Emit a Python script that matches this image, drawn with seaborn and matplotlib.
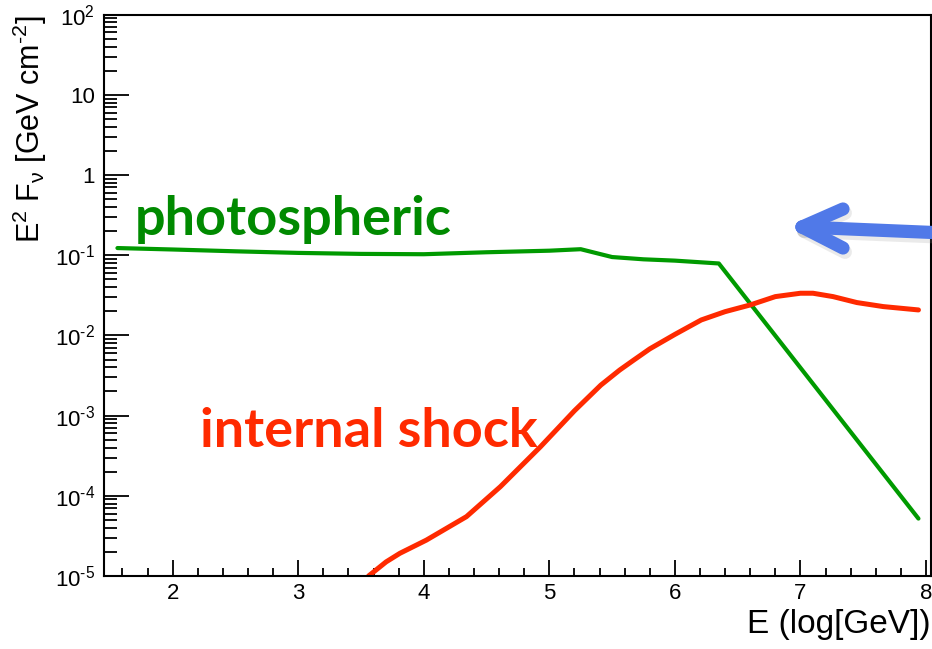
import numpy as np
import pandas as pd
import matplotlib
matplotlib.use("Agg")
import matplotlib.pyplot as plt
from matplotlib.ticker import FixedLocator, LogLocator, NullFormatter, MultipleLocator
from matplotlib.lines import Line2D
import seaborn as sns

# ---- data ----
green_x = [1.56, 2.0, 2.5, 3.0, 3.5, 4.0, 4.5, 5.0, 5.25, 5.5, 5.75, 6.0, 6.35, 7.94]
green_y = [0.123, 0.118, 0.112, 0.107, 0.104, 0.103, 0.109, 0.114, 0.119, 0.095, 0.089, 0.0857, 0.079, 5.2e-5]

red_x = [3.56, 3.7, 3.81, 4.02, 4.34, 4.61, 4.93, 5.2, 5.41, 5.56, 5.67, 5.80, 6.0, 6.21, 6.4,
         6.6, 6.8, 7.0, 7.1, 7.26, 7.45, 7.66, 7.94]
red_y = [1.0e-5, 1.5e-5, 1.92e-5, 2.8e-5, 5.5e-5, 1.3e-4, 4.1e-4, 1.15e-3, 2.4e-3, 3.7e-3,
         4.9e-3, 6.8e-3, 1.03e-2, 1.56e-2, 1.98e-2, 2.4e-2, 3.05e-2, 3.36e-2, 3.36e-2,
         3.05e-2, 2.57e-2, 2.29e-2, 2.08e-2]

x_ticks = [2, 3, 4, 5, 6, 7, 8]
y_ticks = [1e-5, 1e-4, 1e-3, 1e-2, 1e-1, 1, 10, 100]
y_tick_labels = ["10$^{‐5}$", "10$^{‐4}$", "10$^{‐3}$", "10$^{‐2}$", "10$^{‐1}$", "1", "10", "10$^{2}$"]

# ---- style ----
sns.set_style("white")
plt.rcParams["font.family"] = ["Liberation Sans", "DejaVu Sans"]
plt.rcParams["mathtext.fontset"] = "custom"
plt.rcParams["mathtext.rm"] = "Liberation Sans"
plt.rcParams["mathtext.it"] = "Liberation Sans:italic"
plt.rcParams["mathtext.bf"] = "Liberation Sans:bold"
plt.rcParams["text.color"] = "black"
plt.rcParams["axes.labelcolor"] = "black"
plt.rcParams["xtick.color"] = "black"
plt.rcParams["ytick.color"] = "black"

fig = plt.figure(figsize=(9.32, 6.49), dpi=100)
ax = fig.add_axes([103.5 / 932, (649 - 576) / 649, (930.5 - 103.5) / 932, (576 - 14.7) / 649])

df_g = pd.DataFrame({"x": green_x, "y": green_y})
df_r = pd.DataFrame({"x": red_x, "y": red_y})
sns.lineplot(data=df_g, x="x", y="y", ax=ax, color="#009a00", linewidth=3.0,
             sort=False, estimator=None)
sns.lineplot(data=df_r, x="x", y="y", ax=ax, color="#ff2a00", linewidth=3.6,
             sort=False, estimator=None)

ax.set_yscale("log")
ax.set_xlim(1.449, 8.036)
ax.set_ylim(1e-5, 1e2)

ax.xaxis.set_major_locator(FixedLocator(x_ticks))
ax.xaxis.set_minor_locator(MultipleLocator(0.2))
ax.set_xticklabels([str(t) for t in x_ticks])
ax.yaxis.set_major_locator(FixedLocator(y_ticks))
ax.set_yticklabels(y_tick_labels)
ax.yaxis.set_minor_locator(LogLocator(base=10, subs=np.arange(2, 10), numticks=20))
ax.yaxis.set_minor_formatter(NullFormatter())

ax.tick_params(which="both", bottom=True, left=True, top=False, right=False)
ax.tick_params(axis="x", which="major", direction="in", length=11.5, width=1.3, labelsize=16, pad=5, color="black")
ax.tick_params(axis="x", which="minor", direction="in", length=5.8, width=1.3, color="black")
ax.tick_params(axis="y", which="major", direction="in", length=18, width=1.3, labelsize=16, pad=6, color="black")
ax.tick_params(axis="y", which="minor", direction="in", length=9, width=1.3, color="black")

for s in ax.spines.values():
    s.set_visible(True)
    s.set_color("black")
    s.set_linewidth(1.5)

ax.set_xlabel("E (log[GeV])", fontsize=24, loc="right", labelpad=4)
ax.set_ylabel("E$^{2}$ F$_{\\mathrm{ν}}$ [GeV cm$^{‐2}$]", fontsize=22, loc="top")
ax.yaxis.set_label_coords(-0.066, 1.0)

ax.text(1.70, 0.179, "photospheric", color="#008a00", fontsize=39, fontweight="bold",
        family="Lato", va="baseline", ha="left")
ax.text(2.217, 4.07e-4, "internal shock", color="#ff2a00", fontsize=39, fontweight="bold",
        family="Lato", va="baseline", ha="left")

# blue arrow annotation (figure pixel positions converted to fractions)
def fp(x, y):
    return x / 932, (649 - y) / 649

tip = fp(802, 227)
tail = fp(945, 233)
b1 = fp(843, 209)
b2 = fp(843, 248)
for (a, b) in [(tail, tip), (b1, tip), (b2, tip)]:
    shadow = Line2D([a[0] + 2 / 932, b[0] + 2 / 932], [a[1] - 4 / 649, b[1] - 4 / 649],
                    transform=fig.transFigure, color="#999999", alpha=0.2, linewidth=10,
                    solid_capstyle="round")
    fig.add_artist(shadow)
for (a, b) in [(tail, tip), (b1, tip), (b2, tip)]:
    ln = Line2D([a[0], b[0]], [a[1], b[1]], transform=fig.transFigure, color="#5079e8",
                linewidth=9.5, solid_capstyle="round", solid_joinstyle="round")
    fig.add_artist(ln)

fig.savefig("out.png", dpi=100)
